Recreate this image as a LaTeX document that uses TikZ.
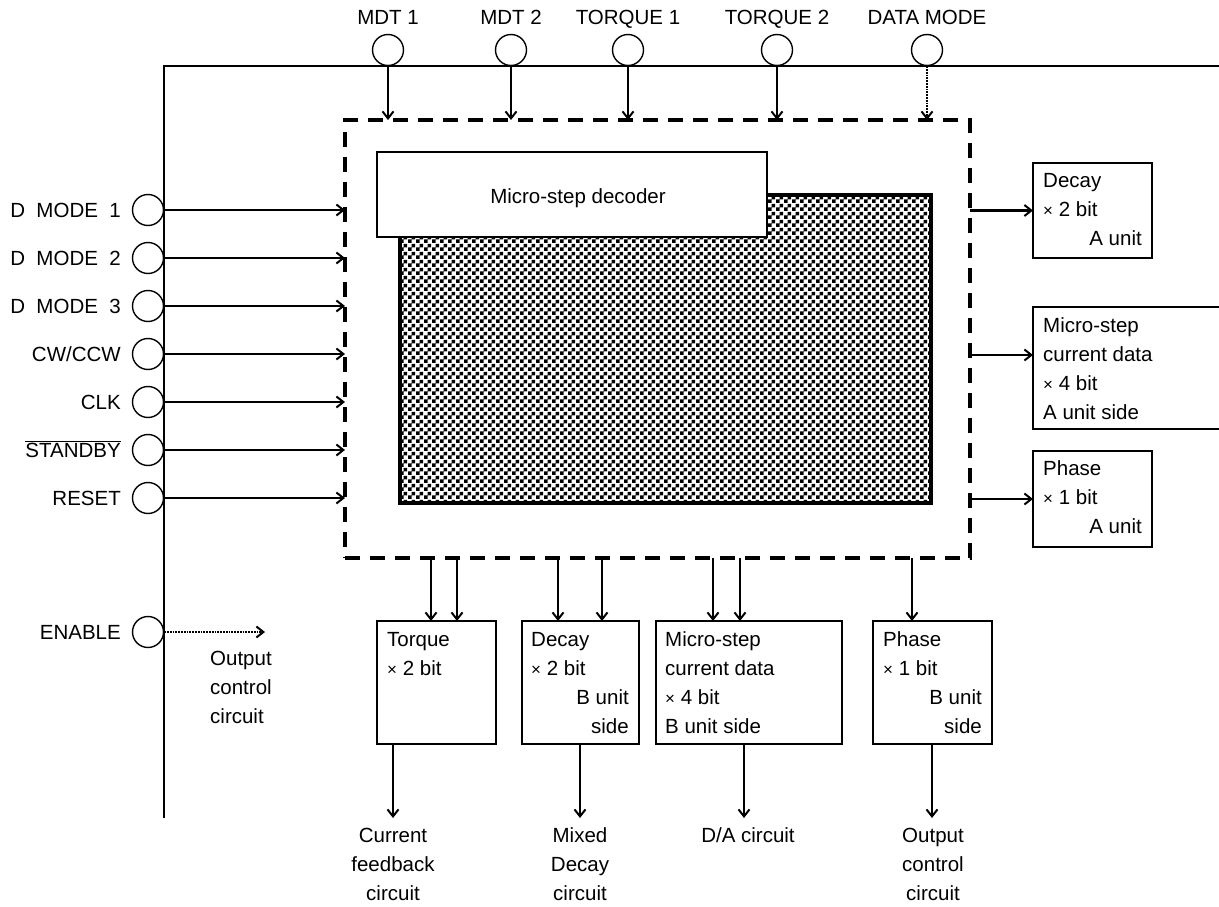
\documentclass[tikz,border=0pt]{standalone}
\usepackage{fontspec}
\setmainfont{Liberation Sans}
\usetikzlibrary{arrows.meta,patterns}
\pgfdeclarepatternformonly{checkers}{\pgfpointorigin}{\pgfqpoint{8pt}{8pt}}{\pgfqpoint{8pt}{8pt}}{%
  \pgfpathrectangle{\pgfpointorigin}{\pgfqpoint{4pt}{4pt}}%
  \pgfpathrectangle{\pgfqpoint{4pt}{4pt}}{\pgfqpoint{4pt}{4pt}}%
  \pgfusepath{fill}}
\newcommand{\mytimes}{{\fontsize{17}{17}\selectfont ×}}
\begin{document}
\begin{tikzpicture}[x=1pt,y=-1pt, font=\fontsize{20.5}{24}\selectfont,
  pin/.style={draw, circle, minimum size=31pt, inner sep=0pt, line width=1.4pt},
  txt/.style={inner sep=0pt, anchor=base},
  txtl/.style={inner sep=0pt, anchor=base west},
  txtr/.style={inner sep=0pt, anchor=base east},
  box/.style={draw, line width=2.6pt, anchor=north west, inner sep=0pt, outer sep=0pt},
  arr/.style={line width=2.1pt, -{Straight Barb[length=7pt,width=11pt,line width=2pt]}},
  dotarr/.style={line width=1.8pt, densely dotted, -{Straight Barb[length=7pt,width=11pt,line width=2pt]}}]

\useasboundingbox (0,0) rectangle (1219,907);

% frame
\coordinate (ftop) at (164,66);
\coordinate (fright) at (1222,66);
\coordinate (fbot) at (164,818);
\draw[line width=2.6pt] (fbot) -- (ftop) -- (fright);

% dashed block
\node[draw, line width=4pt, dash pattern=on 15pt off 10pt, minimum width=625pt, minimum height=438pt,
      anchor=north west, inner sep=0pt, outer sep=0pt] (dbox) at (345,120) {};

% checkered area and decoder
\node[draw, line width=4pt, pattern=checkers, minimum width=531pt, minimum height=308pt,
      anchor=north west, inner sep=0pt, outer sep=0pt] (hatch) at (400,195) {};
\node[box, fill=white, minimum width=390pt, minimum height=85pt] (dec) at (377,152) {};
\node[txt] (decl) at (578,203) {Micro-step decoder};

% top pins
\foreach \x/\n/\t in {388/mdt1/MDT 1, 511/mdt2/MDT 2, 628/tq1/TORQUE 1, 777/tq2/TORQUE 2, 927/dmode/DATA MODE} {
  \node[pin] (\n) at (\x,50) {};
  \node[txt] (\n-l) at (\x,25) {\t};
}
\foreach \n in {mdt1,mdt2,tq1,tq2}
  \draw[arr] (\n.south) -- (\n.south |- dbox.north);
\draw[dotarr] (dmode.south) -- (dmode.south |- dbox.north);

% left pins
\foreach \y/\n/\t in {210/dma/{D~~MODE~~1}, 258/dmb/{D~~MODE~~2}, 306/dmc/{D~~MODE~~3},
                     354/cw/{CW/CCW}, 402/clk/{CLK}, 450/stby/{$\overline{\mbox{STANDBY}}$}, 498/rst/{RESET}} {
  \node[pin] (\n) at (148,\y) {};
  \node[txtr] (\n-l) at (121,\y+7) {\t};
  \draw[arr] (\n.east) -- (\n.east -| dbox.west);
}

% enable
\node[pin] (en) at (148,632) {};
\node[txtr] (en-l) at (121,639) {ENABLE};
\coordinate (enend) at (265,632);
\draw[dotarr] (en.east) -- (enend);
\node[txtl] (oc1) at (210,665) {Output};
\node[txtl] (oc2) at (210,694) {control};
\node[txtl] (oc3) at (210,723) {circuit};

% right boxes
\node[box, minimum width=119pt, minimum height=95pt] (decA) at (1033,163) {};
\node[box, minimum width=189pt, minimum height=122pt] (microA) at (1033,307) {};
\node[box, minimum width=119pt, minimum height=96pt] (phaseA) at (1033,451) {};
\draw[arr] (decA.west -| dbox.east) -- (decA.west);
\draw[arr] ([yshift=13pt]microA.west -| dbox.east) -- ([yshift=13pt]microA.west);
\draw[arr] (phaseA.west -| dbox.east) -- (phaseA.west);

\node[txtl] (decA1) at (1043,187) {Decay};
\node[txtl] (decA2) at (1043,216) {\mytimes\ 2 bit};
\node[txtr] (decA3) at (1142,245) {A unit};
\node[txtl] (micA1) at (1043,332) {Micro-step};
\node[txtl] (micA2) at (1043,361) {current data};
\node[txtl] (micA3) at (1043,390) {\mytimes\ 4 bit};
\node[txtl] (micA4) at (1043,419) {A unit side};
\node[txtl] (phA1) at (1043,475) {Phase};
\node[txtl] (phA2) at (1043,504) {\mytimes\ 1 bit};
\node[txtr] (phA3) at (1142,533) {A unit};

% bottom boxes
\node[box, minimum width=119pt, minimum height=123pt] (torque) at (377,621) {};
\node[box, minimum width=117pt, minimum height=123pt] (decB) at (522,621) {};
\node[box, minimum width=186pt, minimum height=123pt] (microB) at (656,621) {};
\node[box, minimum width=119pt, minimum height=123pt] (phaseB) at (873,621) {};

\foreach \n/\dx in {torque/54, torque/80, decB/36, decB/80, microB/57, microB/84, phaseB/39}
  \draw[arr] ([xshift=\dx pt]\n.north west |- dbox.south) -- ([xshift=\dx pt]\n.north west);

\node[txtl] (tq1t) at (387,646) {Torque};
\node[txtl] (tq2t) at (387,675) {\mytimes\ 2 bit};
\node[txtl] (dB1) at (531,646) {Decay};
\node[txtl] (dB2) at (531,675) {\mytimes\ 2 bit};
\node[txtr] (dB3) at (629,704) {B unit};
\node[txtr] (dB4) at (629,733) {side};
\node[txtl] (mB1) at (665,646) {Micro-step};
\node[txtl] (mB2) at (665,675) {current data};
\node[txtl] (mB3) at (665,704) {\mytimes\ 4 bit};
\node[txtl] (mB4) at (665,733) {B unit side};
\node[txtl] (pB1) at (883,646) {Phase};
\node[txtl] (pB2) at (883,675) {\mytimes\ 1 bit};
\node[txtr] (pB3) at (982,704) {B unit};
\node[txtr] (pB4) at (982,733) {side};

% outputs
\coordinate (tqout) at (393,818);
\coordinate (dBout) at (580,818);
\coordinate (mBout) at (744,818);
\coordinate (pBout) at (932,818);
\draw[arr] (tqout |- torque.south) -- (tqout);
\draw[arr] (dBout |- decB.south) -- (dBout);
\draw[arr] (mBout |- microB.south) -- (mBout);
\draw[arr] (pBout |- phaseB.south) -- (pBout);

\node[txt] (o1a) at (393,842) {Current};
\node[txt] (o1b) at (393,871) {feedback};
\node[txt] (o1c) at (393,900) {circuit};
\node[txt] (o2a) at (580,842) {Mixed};
\node[txt] (o2b) at (580,871) {Decay};
\node[txt] (o2c) at (580,900) {circuit};
\node[txt] (o3a) at (748,842) {D/A circuit};
\node[txt] (o4a) at (933,842) {Output};
\node[txt] (o4b) at (933,871) {control};
\node[txt] (o4c) at (933,900) {circuit};
\end{tikzpicture}
\end{document}
